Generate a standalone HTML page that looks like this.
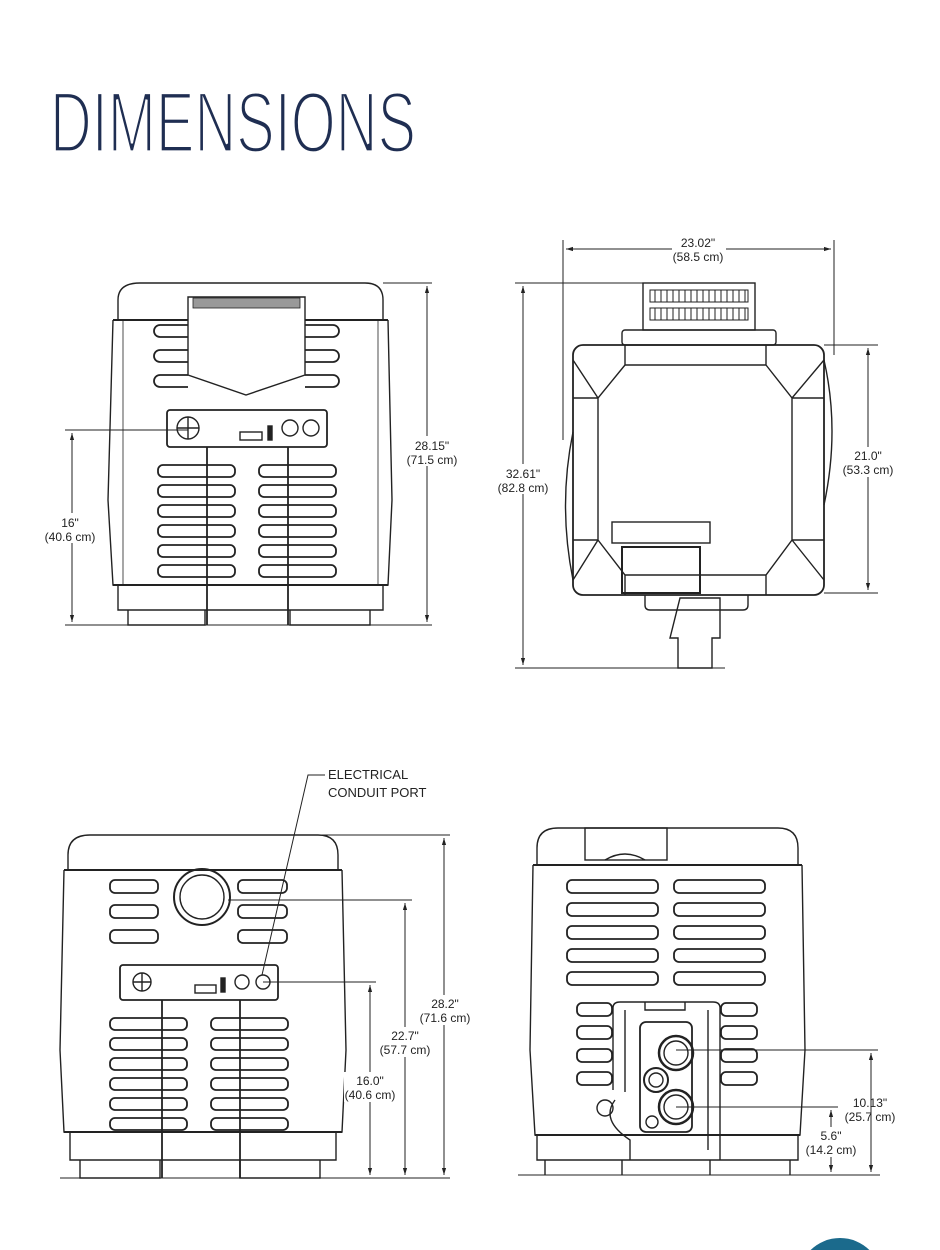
<!DOCTYPE html>
<html><head><meta charset="utf-8"><style>
html,body{margin:0;padding:0;background:#fff;width:940px;height:1250px;overflow:hidden}
svg{display:block;overflow:hidden}
text{font-family:"Liberation Sans",sans-serif;fill:#222}
</style></head><body>
<svg width="940" height="1250" viewBox="0 0 940 1250" xmlns="http://www.w3.org/2000/svg">
<defs>
<marker id="a" viewBox="0 0 10 10" refX="10" refY="5" markerWidth="7" markerHeight="7" orient="auto-start-reverse"><path d="M0,2 L10,5 L0,8z" fill="#222"/></marker>
</defs>
<text x="50" y="152" font-size="86" textLength="366" lengthAdjust="spacingAndGlyphs" stroke="#fff" stroke-width="3.2" style="fill:#1f2e52;font-family:'Liberation Sans Narrow','Liberation Sans',sans-serif">DIMENSIONS</text>

<g fill="none" stroke="#222" stroke-width="1.4">
<!-- Drawing 1 front -->
<path d="M118,320 L118,300 Q118,283 140,283 L365,283 Q383,283 383,300 L383,320"/>
<line x1="113" y1="320" x2="388" y2="320" stroke-width="2"/>
<path d="M113,320 L108,500 L113,585 L388,585 L392,500 L388,320"/>
<line x1="123" y1="320" x2="123" y2="585" stroke-width="0.8"/>
<line x1="378" y1="320" x2="378" y2="585" stroke-width="0.8"/>
<line x1="113" y1="585" x2="388" y2="585" stroke-width="2"/>
<path d="M118,585 L118,610 L383,610 L383,585"/>
<path d="M128,610 L128,625 L205,625 L205,610 M290,610 L290,625 L370,625 L370,610"/>
<path d="M188,297 L305,297 L305,375 L246,395 L188,375 Z" fill="#fff"/>
<rect x="193" y="298" width="107" height="10" fill="#999" stroke-width="0.8"/>
<g stroke-width="1.8">
<path d="M188,325 h-28 a5,5 0 0 0 0,12 h28 M188,350 h-28 a5,5 0 0 0 0,12 h28 M188,375 h-28 a5,5 0 0 0 0,12 h28"/>
<path d="M305,325 h28 a5,5 0 0 1 0,12 h-28 M305,350 h28 a5,5 0 0 1 0,12 h-28 M305,375 h28 a5,5 0 0 1 0,12 h-28"/>
</g>
<rect x="167" y="410" width="160" height="37" rx="3" stroke-width="1.8"/>
<circle cx="188" cy="428" r="11"/><line x1="177" y1="428" x2="199" y2="428"/><line x1="188" y1="417" x2="188" y2="439"/>
<rect x="240" y="432" width="22" height="8"/><rect x="268" y="426" width="4" height="14" fill="#222"/>
<circle cx="290" cy="428" r="8"/><circle cx="311" cy="428" r="8"/>
<g stroke-width="1.8">
<rect x="158" y="465" width="77" height="12" rx="5"/><rect x="158" y="485" width="77" height="12" rx="5"/><rect x="158" y="505" width="77" height="12" rx="5"/><rect x="158" y="525" width="77" height="12" rx="5"/><rect x="158" y="545" width="77" height="12" rx="5"/><rect x="158" y="565" width="77" height="12" rx="5"/>
<rect x="259" y="465" width="77" height="12" rx="5"/><rect x="259" y="485" width="77" height="12" rx="5"/><rect x="259" y="505" width="77" height="12" rx="5"/><rect x="259" y="525" width="77" height="12" rx="5"/><rect x="259" y="545" width="77" height="12" rx="5"/><rect x="259" y="565" width="77" height="12" rx="5"/>
<line x1="207" y1="447" x2="207" y2="625"/><line x1="288" y1="447" x2="288" y2="625"/>
</g>
</g>
<g stroke="#222" stroke-width="1" fill="none">
<line x1="383" y1="283" x2="432" y2="283"/><line x1="65" y1="625" x2="432" y2="625"/><line x1="65" y1="430" x2="188" y2="430"/>
<line x1="427" y1="286" x2="427" y2="622" marker-start="url(#a)" marker-end="url(#a)"/>
<line x1="72" y1="433" x2="72" y2="622" marker-start="url(#a)" marker-end="url(#a)"/>
</g>
<rect x="405" y="436" width="50" height="30" fill="#fff"/>
<rect x="40" y="513" width="64" height="30" fill="#fff"/>
<text x="432" y="450" font-size="12" text-anchor="middle">28.15"</text><text x="432" y="464" font-size="12" text-anchor="middle">(71.5 cm)</text>
<text x="70" y="527" font-size="12" text-anchor="middle">16"</text><text x="70" y="541" font-size="12" text-anchor="middle">(40.6 cm)</text>

<!-- Drawing 2 top -->
<g fill="none" stroke="#222" stroke-width="1.4">
<rect x="643" y="283" width="112" height="47"/>
<g stroke-width="1">
<path d="M650,290 h98 v12 h-98z M650,308 h98 v12 h-98z"/>
<path d="M655,290v12M661,290v12M667,290v12M673,290v12M679,290v12M685,290v12M691,290v12M697,290v12M703,290v12M709,290v12M715,290v12M721,290v12M727,290v12M733,290v12M739,290v12M745,290v12 M655,308v12M661,308v12M667,308v12M673,308v12M679,308v12M685,308v12M691,308v12M697,308v12M703,308v12M709,308v12M715,308v12M721,308v12M727,308v12M733,308v12M739,308v12M745,308v12"/>
</g>
<rect x="622" y="330" width="154" height="15" rx="3"/>
<rect x="573" y="345" width="251" height="250" rx="10" stroke-width="1.8"/>
<path d="M625,345 v20 h141 v-20 M625,365 L598,398 L598,540 L625,575 L766,575 L792,540 L792,398 L766,365 M573,398 h25 M573,540 h25 M792,398 h32 M792,540 h32 M625,575 v20 M766,575 v20 M573,360 l25,38 M824,360 l-32,38 M573,580 l25,-40 M824,580 l-32,-40"/>
<path d="M573,432 Q558,505 573,580" /><path d="M824,360 Q840,430 824,505"/>
<rect x="612" y="522" width="98" height="21"/>
<rect x="622" y="547" width="78" height="46" stroke-width="2"/>
<path d="M645,595 v10 q0,5 5,5 h93 q5,0 5,-5 v-10"/>
<path d="M680,598 h40 v40 h-8 v30 h-34 v-30 h-8z"/>
</g>
<g stroke="#222" stroke-width="1" fill="none">
<line x1="563" y1="240" x2="563" y2="440"/><line x1="834" y1="240" x2="834" y2="355"/>
<line x1="566" y1="249" x2="672" y2="249" marker-start="url(#a)"/><line x1="726" y1="249" x2="831" y2="249" marker-end="url(#a)"/>
<line x1="515" y1="283" x2="643" y2="283"/><line x1="515" y1="668" x2="725" y2="668"/>
<line x1="523" y1="286" x2="523" y2="665" marker-start="url(#a)" marker-end="url(#a)"/>
<line x1="824" y1="345" x2="878" y2="345"/><line x1="824" y1="593" x2="878" y2="593"/>
<line x1="868" y1="348" x2="868" y2="590" marker-start="url(#a)" marker-end="url(#a)"/>
</g>
<text x="698" y="247" font-size="12" text-anchor="middle">23.02"</text><text x="698" y="261" font-size="12" text-anchor="middle">(58.5 cm)</text>
<rect x="497" y="464" width="54" height="30" fill="#fff"/>
<text x="523" y="478" font-size="12" text-anchor="middle">32.61"</text><text x="523" y="492" font-size="12" text-anchor="middle">(82.8 cm)</text>
<rect x="842" y="447" width="54" height="30" fill="#fff"/>
<text x="868" y="460" font-size="12" text-anchor="middle">21.0"</text><text x="868" y="474" font-size="12" text-anchor="middle">(53.3 cm)</text>

<!-- Drawing 3 back -->
<g fill="none" stroke="#222" stroke-width="1.4">
<path d="M68,870 L68,855 Q68,835 90,835 L318,835 Q338,835 338,855 L338,870"/>
<line x1="64" y1="870" x2="342" y2="870" stroke-width="2"/>
<path d="M64,870 L60,1050 L64,1132 L342,1132 L346,1050 L342,870"/>
<line x1="64" y1="1132" x2="342" y2="1132" stroke-width="2"/>
<path d="M70,1132 L70,1160 L336,1160 L336,1132"/>
<path d="M80,1160 L80,1178 L160,1178 L160,1160 M240,1160 L240,1178 L320,1178 L320,1160"/>
<circle cx="202" cy="897" r="28" stroke-width="2"/><circle cx="202" cy="897" r="22"/>
<g stroke-width="1.8">
<rect x="110" y="880" width="48" height="13" rx="5"/><rect x="110" y="905" width="48" height="13" rx="5"/><rect x="110" y="930" width="48" height="13" rx="5"/>
<rect x="238" y="880" width="49" height="13" rx="5"/><rect x="238" y="905" width="49" height="13" rx="5"/><rect x="238" y="930" width="49" height="13" rx="5"/>
<rect x="120" y="965" width="158" height="35" rx="3"/>
<rect x="110" y="1018" width="77" height="12" rx="5"/><rect x="110" y="1038" width="77" height="12" rx="5"/><rect x="110" y="1058" width="77" height="12" rx="5"/><rect x="110" y="1078" width="77" height="12" rx="5"/><rect x="110" y="1098" width="77" height="12" rx="5"/><rect x="110" y="1118" width="77" height="12" rx="5"/>
<rect x="211" y="1018" width="77" height="12" rx="5"/><rect x="211" y="1038" width="77" height="12" rx="5"/><rect x="211" y="1058" width="77" height="12" rx="5"/><rect x="211" y="1078" width="77" height="12" rx="5"/><rect x="211" y="1098" width="77" height="12" rx="5"/><rect x="211" y="1118" width="77" height="12" rx="5"/>
<line x1="162" y1="1000" x2="162" y2="1178"/><line x1="240" y1="1000" x2="240" y2="1178"/>
</g>
<circle cx="142" cy="982" r="9"/><line x1="133" y1="982" x2="151" y2="982"/><line x1="142" y1="973" x2="142" y2="991"/>
<rect x="195" y="985" width="21" height="8"/><rect x="221" y="978" width="4" height="14" fill="#222"/>
<circle cx="242" cy="982" r="7"/><circle cx="263" cy="982" r="7"/>
</g>
<g stroke="#222" stroke-width="1" fill="none">
<polyline points="262,975 308,775 325,775"/>
<line x1="318" y1="835" x2="450" y2="835"/><line x1="60" y1="1178" x2="450" y2="1178"/>
<line x1="228" y1="900" x2="412" y2="900"/><line x1="263" y1="982" x2="376" y2="982"/>
<line x1="444" y1="838" x2="444" y2="1175" marker-start="url(#a)" marker-end="url(#a)"/>
<line x1="405" y1="903" x2="405" y2="1175" marker-start="url(#a)" marker-end="url(#a)"/>
<line x1="370" y1="985" x2="370" y2="1175" marker-start="url(#a)" marker-end="url(#a)"/>
</g>
<text x="328" y="779" font-size="13">ELECTRICAL</text><text x="328" y="797" font-size="13">CONDUIT PORT</text>
<rect x="418" y="995" width="52" height="30" fill="#fff"/>
<text x="445" y="1008" font-size="12" text-anchor="middle">28.2"</text><text x="445" y="1022" font-size="12" text-anchor="middle">(71.6 cm)</text>
<rect x="380" y="1027" width="52" height="30" fill="#fff"/>
<text x="405" y="1040" font-size="12" text-anchor="middle">22.7"</text><text x="405" y="1054" font-size="12" text-anchor="middle">(57.7 cm)</text>
<rect x="344" y="1072" width="52" height="30" fill="#fff"/>
<text x="370" y="1085" font-size="12" text-anchor="middle">16.0"</text><text x="370" y="1099" font-size="12" text-anchor="middle">(40.6 cm)</text>

<!-- Drawing 4 side -->
<g fill="none" stroke="#222" stroke-width="1.4">
<path d="M537,865 L537,848 Q537,828 558,828 L778,828 Q798,828 798,848 L798,865"/>
<rect x="585" y="828" width="82" height="32"/><path d="M605,860 q20,-12 40,0"/>
<line x1="533" y1="865" x2="802" y2="865" stroke-width="2"/>
<path d="M533,865 L530,1050 L535,1135 L800,1135 L805,1050 L802,865"/>
<line x1="535" y1="1135" x2="800" y2="1135" stroke-width="2"/>
<path d="M537,1135 L537,1160 L798,1160 L798,1135"/>
<path d="M545,1160 L545,1175 M622,1160 L622,1175 M710,1160 L710,1175 M790,1160 L790,1175"/>
<g stroke-width="1.8">
<rect x="567" y="880" width="91" height="13" rx="5"/><rect x="567" y="903" width="91" height="13" rx="5"/><rect x="567" y="926" width="91" height="13" rx="5"/><rect x="567" y="949" width="91" height="13" rx="5"/><rect x="567" y="972" width="91" height="13" rx="5"/>
<rect x="674" y="880" width="91" height="13" rx="5"/><rect x="674" y="903" width="91" height="13" rx="5"/><rect x="674" y="926" width="91" height="13" rx="5"/><rect x="674" y="949" width="91" height="13" rx="5"/><rect x="674" y="972" width="91" height="13" rx="5"/>
<rect x="577" y="1003" width="35" height="13" rx="5"/><rect x="577" y="1026" width="35" height="13" rx="5"/><rect x="577" y="1049" width="35" height="13" rx="5"/><rect x="577" y="1072" width="35" height="13" rx="5"/>
<rect x="721" y="1003" width="36" height="13" rx="5"/><rect x="721" y="1026" width="36" height="13" rx="5"/><rect x="721" y="1049" width="36" height="13" rx="5"/><rect x="721" y="1072" width="36" height="13" rx="5"/>
</g>
<path d="M613,1090 L613,1008 Q613,1002 620,1002 L713,1002 Q720,1002 720,1008 L720,1160 M630,1160 L630,1140 Q600,1120 615,1100"/>
<path d="M625,1010 L625,1092 M708,1010 L708,1150 M645,1002 v8 h40 v-8"/>
<rect x="640" y="1022" width="52" height="110" rx="6" stroke-width="1.8"/>
<circle cx="676" cy="1053" r="17" stroke-width="2.5"/><circle cx="676" cy="1053" r="12"/>
<circle cx="656" cy="1080" r="12" stroke-width="2"/><circle cx="656" cy="1080" r="7"/>
<circle cx="676" cy="1107" r="17" stroke-width="2.5"/><circle cx="676" cy="1107" r="12"/>
<circle cx="605" cy="1108" r="8"/><circle cx="652" cy="1122" r="6"/>
</g>
<g stroke="#222" stroke-width="1" fill="none">
<line x1="518" y1="1175" x2="880" y2="1175"/>
<line x1="676" y1="1050" x2="878" y2="1050"/><line x1="676" y1="1107" x2="838" y2="1107"/>
<line x1="871" y1="1053" x2="871" y2="1172" marker-start="url(#a)" marker-end="url(#a)"/>
<line x1="831" y1="1110" x2="831" y2="1172" marker-start="url(#a)" marker-end="url(#a)"/>
</g>
<text x="870" y="1107" font-size="12" text-anchor="middle">10.13"</text><text x="870" y="1121" font-size="12" text-anchor="middle">(25.7 cm)</text>
<rect x="805" y="1127" width="52" height="30" fill="#fff"/>
<text x="831" y="1140" font-size="12" text-anchor="middle">5.6"</text><text x="831" y="1154" font-size="12" text-anchor="middle">(14.2 cm)</text>

<circle cx="840" cy="1280" r="42" fill="#1b6a8c"/>
</svg>
</body></html>
